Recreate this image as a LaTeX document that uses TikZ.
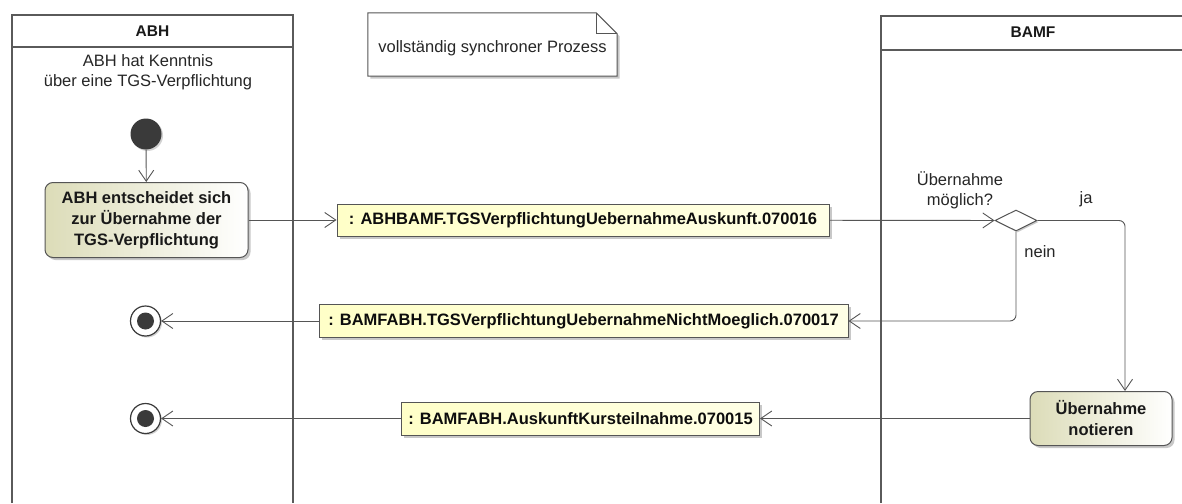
\documentclass[tikz,border=0pt]{standalone}
\usepackage{fontspec}
\setmainfont{Liberation Sans}
\usepackage{xcolor}
\usetikzlibrary{shapes.geometric, arrows.meta, positioning, shadows, backgrounds}

\definecolor{linegray}{HTML}{555555}
\definecolor{lanegray}{HTML}{5A5A5A}
\definecolor{actfill}{HTML}{DCDCB8}
\definecolor{msgfill}{HTML}{FFFFC8}
\definecolor{dotgray}{HTML}{3A3A3A}

\begin{document}
\begin{tikzpicture}[x=1pt, y=-1pt]

% --- STYLES ---
\tikzstyle{lane} = [draw=lanegray, line width=2pt]
\tikzstyle{lanetitle} = [font=\fontsize{15.5}{18}\selectfont\bfseries, text=black!90]
\tikzstyle{plain} = [align=center, font=\fontsize{16.5}{20}\selectfont, text=black!85]
\tikzstyle{action} = [rectangle, rounded corners=8pt, draw=linegray, line width=1pt, left color=actfill, right color=white, align=center, inner sep=0pt, font=\fontsize{16.5}{21}\selectfont\bfseries, text=black!90, drop shadow={shadow xshift=2.5pt, shadow yshift=-2.5pt, fill=black!30, opacity=0.7}]
\tikzstyle{message} = [rectangle, draw=linegray, line width=1pt, left color=msgfill, right color=msgfill!45!white, inner sep=0pt, font=\fontsize{16.5}{20}\selectfont\bfseries, text=black!95, drop shadow={shadow xshift=2.5pt, shadow yshift=-2.5pt, fill=black!30, opacity=0.7}]
\tikzstyle{initial} = [circle, fill=dotgray, minimum size=31pt, inner sep=0pt, drop shadow={shadow xshift=1.5pt, shadow yshift=-1.5pt, fill=black!25, opacity=0.7}]
\tikzstyle{final} = [circle, draw=dotgray, line width=1.2pt, fill=white, minimum size=30pt, inner sep=0pt, drop shadow={shadow xshift=1.5pt, shadow yshift=-1.5pt, fill=black!25, opacity=0.7}]
\tikzstyle{decision} = [diamond, draw=linegray, line width=1pt, fill=white, minimum width=42pt, minimum height=21pt, inner sep=0pt, drop shadow={shadow xshift=1.5pt, shadow yshift=-1.5pt, fill=black!30, opacity=0.7}]
\tikzstyle{arrow} = [draw=linegray, line width=0.9pt, -{Straight Barb[length=11pt, width=15pt, line width=0.9pt]}]

\useasboundingbox (0,0) rectangle (1182,503);

% --- NODES ---

% lane titles
\node (abhtitle) [lanetitle] at (152.5,31) {ABH};
\node (bamftitle) [lanetitle] at (1033,32) {BAMF};

% note
\node (note) [minimum width=249pt, minimum height=63pt, inner sep=0pt] at (492.5,44.5) {};
\node (notetext) [plain] at (492.5,48.5) {vollständig synchroner Prozess};

% ABH side
\node (trigger) [plain] at (148,72.5) {ABH hat Kenntnis\\über eine TGS-Verpflichtung};
\node (start) [initial] at (146,134) {};
\node (decide) [action, minimum width=203pt, minimum height=75pt] at (146.5,220) {ABH entscheidet sich\\zur Übernahme der\\TGS-Verpflichtung};
\node (endno) [final] at (145.5,321) {};
\fill[dotgray] (endno) circle (8.5pt);
\node (endyes) [final] at (145.5,418.5) {};
\fill[dotgray] (endyes) circle (8.5pt);

% messages
\node (request) [message, minimum width=492pt, minimum height=32pt] at (583,220) {: ABHBAMF.TGSVerpflichtungUebernahmeAuskunft.070016};
\node (reject) [message, minimum width=529pt, minimum height=33pt] at (583.5,321) {: BAMFABH.TGSVerpflichtungUebernahmeNichtMoeglich.070017};
\node (confirm) [message, minimum width=358pt, minimum height=33pt] at (580.5,418.5) {: BAMFABH.AuskunftKursteilnahme.070015};

% BAMF side
\node (check) [decision] at (1016,220.5) {};
\node (checklabel) [plain] at (960,190) {Übernahme\\möglich?};
\node (yeslabel) [plain] at (1086,199) {ja};
\node (nolabel) [plain] at (1040,252) {nein};
\node (record) [action, minimum width=142pt, minimum height=54pt] at (1101,418.5) {Übernahme\\notieren};

% --- ARROWS ---
\draw [arrow] (start) -- (decide);
\draw [arrow] (decide) -- (request);
\draw [arrow] (request) -- (check);

% ja / nein
\draw [arrow, rounded corners=6pt] (check.east) -| ([xshift=24pt]record.north);
\draw [arrow, rounded corners=6pt] (check.south) |- (reject.east);

\draw [arrow] (reject) -- (endno);
\draw [arrow] (record) -- (confirm);
\draw [arrow] (confirm) -- (endyes);

% --- LANES AND NOTE ---
\begin{pgfonlayer}{background}
	\fill[white] (0,0) rectangle (1182,503);
	\draw [lane] (12,503) -- (12,15) -- (293,15) -- (293,503);
	\draw [lane] (12,47) -- (293,47);
	\draw [lane] (881,503) -- (881,16) -- (1182,16);
	\draw [lane] (881,50) -- (1182,50);
	\filldraw [fill=white, draw=linegray, line width=1pt, drop shadow={shadow xshift=2.5pt, shadow yshift=-2.5pt, fill=black!30, opacity=0.7}]
		(note.north west) -- ([xshift=-21pt]note.north east) -- ([yshift=-21pt]note.north east) -- (note.south east) -- (note.south west) -- cycle;
	\draw [draw=linegray, line width=1pt] ([xshift=-21pt]note.north east) -- ++(0,21) -- ([yshift=-21pt]note.north east);
\end{pgfonlayer}

\end{tikzpicture}
\end{document}
